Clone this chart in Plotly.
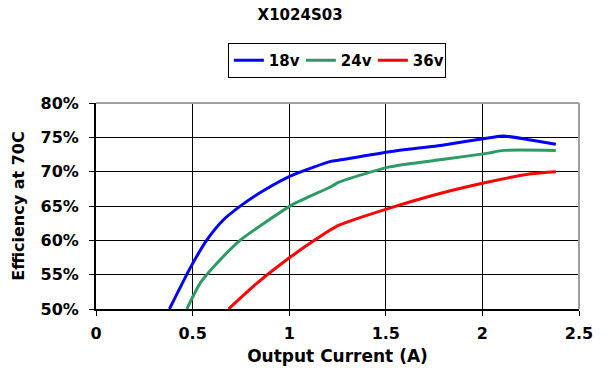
import plotly.graph_objects as go

x18 = [0.38, 0.49, 0.575, 0.66, 0.757, 0.87, 1.017, 1.215, 1.26, 1.52, 1.8, 2.03, 2.11, 2.25, 2.38]
y18 = [50.0, 56.1, 60.1, 63.0, 65.2, 67.3, 69.5, 71.5, 71.7, 72.9, 73.9, 74.9, 75.2, 74.6, 74.0]

x24 = [0.47, 0.54, 0.627, 0.75, 0.87, 1.017, 1.215, 1.26, 1.52, 1.8, 2.03, 2.11, 2.38]
y24 = [50.0, 53.8, 56.7, 60.1, 62.5, 65.2, 67.8, 68.5, 70.7, 71.8, 72.7, 73.1, 73.1]

x36 = [0.686, 0.835, 1.008, 1.146, 1.257, 1.52, 1.79, 2.03, 2.25, 2.38]
y36 = [50.0, 53.8, 57.6, 60.3, 62.2, 64.7, 66.9, 68.5, 69.7, 70.0]

names = ["18v", "24v", "36v"]
colors = ["#0000ff", "#2e9a66", "#ff0000"]

xticks = [0, 0.5, 1, 1.5, 2, 2.5]
xticklabels = ["0", "0.5", "1", "1.5", "2", "2.5"]
yticks = [50, 55, 60, 65, 70, 75, 80]
yticklabels = ["50%", "55%", "60%", "65%", "70%", "75%", "80%"]

FAM = "DejaVu Sans"

fig = go.Figure()
for xs, ys, n, c in zip([x18, x24, x36], [y18, y24, y36], names, colors):
    fig.add_trace(go.Scatter(x=xs, y=ys, mode="lines", name=n,
                             line=dict(color=c, width=3, shape="spline", smoothing=0.6)))

fig.update_layout(
    width=610, height=377,
    margin=dict(l=96, r=31, t=103, b=68),
    paper_bgcolor="white", plot_bgcolor="white",
    font=dict(family=FAM, size=15, color="black", weight="bold"),
    title=dict(text="X1024S03", x=0.492, xanchor="center", y=0.975, yanchor="top",
               font=dict(family=FAM, size=15, color="black", weight="bold")),
    showlegend=True,
    legend=dict(orientation="h", x=0.273, y=0.886, xref="paper", yref="container",
                xanchor="left", yanchor="top",
                bordercolor="black", borderwidth=1, bgcolor="white",
                font=dict(family=FAM, size=15, color="black", weight="bold"),
                itemwidth=30, tracegroupgap=0,
                entrywidth=27, entrywidthmode="pixels"),
    xaxis=dict(range=[0, 2.5], tickvals=xticks, ticktext=xticklabels,
               tickfont=dict(family=FAM, size=16, color="black", weight="bold"),
               ticklabelstandoff=4,
               showgrid=True, gridcolor="black", gridwidth=1,
               showline=True, linecolor="black", linewidth=2,
               ticks="outside", ticklen=5, tickcolor="black",
               zeroline=False,
               title=dict(text="Output Current (A)", standoff=8,
                          font=dict(family=FAM, size=17, color="black", weight="bold"))),
    yaxis=dict(range=[50, 80], tickvals=yticks, ticktext=yticklabels,
               tickfont=dict(family=FAM, size=16, color="black", weight="bold"),
               ticklabelstandoff=7,
               showgrid=True, gridcolor="black", gridwidth=1,
               showline=True, linecolor="black", linewidth=2,
               ticks="outside", ticklen=5, tickcolor="black",
               zeroline=False,
               title=dict(text="Efficiency at 70C", standoff=12,
                          font=dict(family=FAM, size=16, color="black", weight="bold"))),
)

# gray border on top and right
fig.add_shape(type="line", xref="paper", yref="paper", x0=0, x1=1, y0=1, y1=1,
              line=dict(color="#a0a0a0", width=2))
fig.add_shape(type="line", xref="paper", yref="paper", x0=1, x1=1, y0=0, y1=1,
              line=dict(color="#a0a0a0", width=2))

fig.write_html("out.html")
